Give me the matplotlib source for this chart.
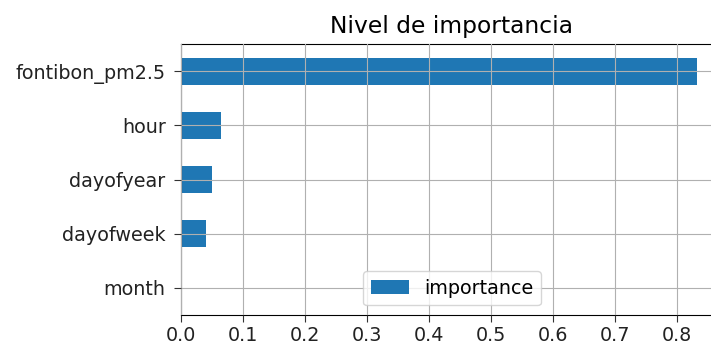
import matplotlib
matplotlib.use("Agg")
import matplotlib.pyplot as plt
import pandas as pd

features = ["month", "dayofweek", "dayofyear", "hour", "fontibon_pm2.5"]
importance = [0.0, 0.041, 0.0505, 0.064, 0.832]

df = pd.DataFrame({"importance": importance}, index=features)

fig = plt.figure(figsize=(7.11, 3.47), dpi=100)
ax = fig.add_axes([181/711, 1 - 315/347, 542/711, 271/347])
df.plot.barh(ax=ax, color="#1f77b4")
ax.set_title("Nivel de importancia", fontsize=16.8, pad=8)
ax.grid(True)
ax.set_axisbelow(False)
ax.tick_params(labelsize=13.75, length=5, colors="#333333", labelcolor="#222222")
ax.tick_params(axis="x", pad=3)
ax.tick_params(axis="y", pad=6)
ax.set_xticks([0.0, 0.1, 0.2, 0.3, 0.4, 0.5, 0.6, 0.7, 0.8])
ax.legend(loc="lower center", fontsize=13.75)
fig.savefig("out.png", dpi=100)
